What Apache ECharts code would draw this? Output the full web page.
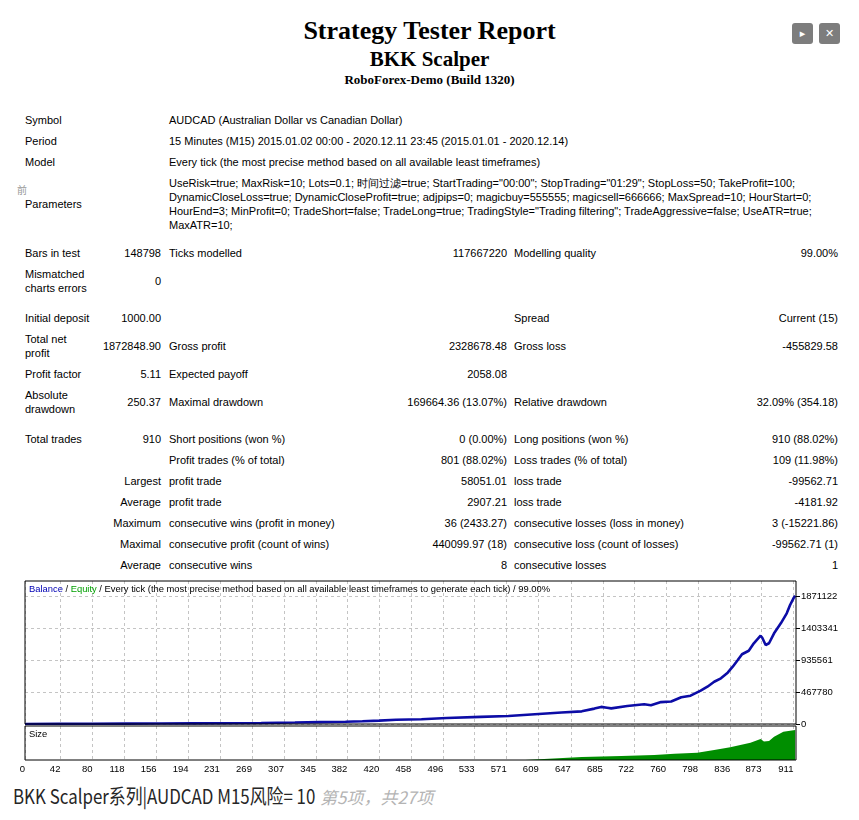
<!DOCTYPE html>
<html>
<head>
<meta charset="utf-8">
<script src="https://cdn.jsdelivr.net/npm/echarts@6/dist/echarts.min.js"></script>
<style>
  body { margin: 0; background: #fff; }
  #page { position: relative; width: 859px; height: 820px; overflow: hidden;
          font-family: 'Liberation Sans', sans-serif; font-size: 11px; color: #000; }
  .head { position: absolute; left: 0; width: 859px; text-align: center; white-space: nowrap;
          font-family: 'Liberation Serif', serif; font-weight: bold; }
  .cell { position: absolute; display: flex; align-items: center; white-space: nowrap; line-height: 14px; }
  .btn { position: absolute; top: 23px; width: 21px; height: 21px; background: #7d7d7d; border-radius: 3px;
         color: #fff; font-size: 11px; line-height: 21px; text-align: center; font-family: 'DejaVu Sans', sans-serif; }
  #chart { position: absolute; left: 0; top: 570px; width: 859px; height: 210px; }
  #caption { position: absolute; left: 13px; top: 781px; white-space: nowrap; color: #262626;
             font-family: 'Noto Sans CJK SC', sans-serif; font-size: 20px; transform-origin: 0 50%; }
  #pageNo { position: absolute; left: 320px; top: 784px; white-space: nowrap; color: #b4b4b4;
            font-family: 'Noto Sans CJK SC', sans-serif; font-size: 17px; font-style: italic; }
</style>
</head>
<body>
<div id="page">
  <div class="head" style="top:16px;font-size:26px;">Strategy Tester Report</div>
  <div class="head" style="top:47px;font-size:21px;">BKK Scalper</div>
  <div class="head" style="top:72px;font-size:13px;">RoboForex-Demo (Build 1320)</div>
  <div class="btn" style="left:792px;">&#9656;</div>
  <div class="btn" style="left:819px;">&#10005;</div>
  <div class="cell" style="left:17px;top:183px;height:14px;color:#999;font-family:'Noto Sans CJK SC';font-size:10px;">前</div>
  <div id="report"></div>
  <div id="chart"></div>
  <div id="caption">BKK Scalper系列|AUDCAD M15风险= 10</div>
  <div id="pageNo">第5项，共27项</div>
</div>
<script>
// report table text
const paramLines = [
  'UseRisk=true; MaxRisk=10; Lots=0.1; 时间过滤=true; StartTrading="00:00"; StopTrading="01:29"; StopLoss=50; TakeProfit=100;',
  'DynamicCloseLoss=true; DynamicCloseProfit=true; adjpips=0; magicbuy=555555; magicsell=666666; MaxSpread=10; HourStart=0;',
  'HourEnd=3; MinProfit=0; TradeShort=false; TradeLong=true; TradingStyle="Trading filtering"; TradeAggressive=false; UseATR=true;',
  'MaxATR=10;'
];
const reportRows = [
  ['Symbol', '', 'AUDCAD (Australian Dollar vs Canadian Dollar)'],
  ['Period', '', '15 Minutes (M15) 2015.01.02 00:00 - 2020.12.11 23:45 (2015.01.01 - 2020.12.14)'],
  ['Model', '', 'Every tick (the most precise method based on all available least timeframes)'],
  ['Parameters', '', paramLines.join('<br>')],
  [],
  ['Bars in test', '148798', 'Ticks modelled', '117667220', 'Modelling quality', '99.00%'],
  ['Mismatched<br>charts errors', '0'],
  [],
  ['Initial deposit', '1000.00', '', '', 'Spread', 'Current (15)'],
  ['Total net<br>profit', '1872848.90', 'Gross profit', '2328678.48', 'Gross loss', '-455829.58'],
  ['Profit factor', '5.11', 'Expected payoff', '2058.08'],
  ['Absolute<br>drawdown', '250.37', 'Maximal drawdown', '169664.36 (13.07%)', 'Relative drawdown', '32.09% (354.18)'],
  [],
  ['Total trades', '910', 'Short positions (won %)', '0 (0.00%)', 'Long positions (won %)', '910 (88.02%)'],
  ['', '', 'Profit trades (% of total)', '801 (88.02%)', 'Loss trades (% of total)', '109 (11.98%)'],
  ['', 'Largest', 'profit trade', '58051.01', 'loss trade', '-99562.71'],
  ['', 'Average', 'profit trade', '2907.21', 'loss trade', '-4181.92'],
  ['', 'Maximum', 'consecutive wins (profit in money)', '36 (2433.27)', 'consecutive losses (loss in money)', '3 (-15221.86)'],
  ['', 'Maximal', 'consecutive profit (count of wins)', '440099.97 (18)', 'consecutive loss (count of losses)', '-99562.71 (1)'],
  ['', 'Average', 'consecutive wins', '8', 'consecutive losses', '1']
];

// balance curve (trade number -> balance)
const balanceTrade = [0, 40, 80, 120, 160, 200, 240, 280, 320, 350, 380, 400, 420, 440, 470, 500, 540, 573,
  600, 636, 660, 675, 683, 690, 695, 714, 734, 742, 754, 766, 778, 789, 801, 809, 817, 825, 833, 839, 845,
  850, 858, 864, 872, 874, 878, 882, 888, 896, 903, 907, 911, 913];
const balanceValue = [1000, 1900, 3200, 4800, 6500, 8800, 11500, 15500, 21000, 27000, 33000, 40000, 50000,
  62000, 70000, 88000, 104000, 117000, 140000, 168000, 185000, 225000, 250000, 238000, 228000, 262000,
  288000, 274000, 320000, 328000, 390000, 414000, 487000, 545000, 618000, 668000, 750000, 838000, 935000,
  1020000, 1071000, 1180000, 1291000, 1260000, 1155000, 1180000, 1326000, 1472000, 1618000, 1740000,
  1837000, 1873849];

// lot size histogram
const sizeTrade = [0, 100, 200, 300, 400, 500, 593, 594, 660, 707, 746, 770, 797, 817, 836, 860, 872, 876,
  882, 888, 899, 913];
const sizeValue = [0.1, 0.2, 0.3, 0.4, 0.5, 0.6, 0.6, 12.5, 18.7, 25, 31, 39, 45.5, 62, 79, 108, 131, 115,
  118, 145, 176, 187];

const tradeLabels = [0, 42, 80, 118, 156, 194, 231, 269, 307, 345, 382, 420, 458, 496, 533, 571, 609, 647,
  685, 722, 760, 798, 836, 873, 911];
const balanceLabels = [0, 467780, 935561, 1403341, 1871122];

// --- report layout
const rowHeights = [21, 21, 21, 63, 7, 21, 35, 9, 21, 35, 21, 35, 9, 21, 21, 21, 21, 21, 21, 21];
const colX = [25, 161, 169, 507, 514, 838];
const colRight = [false, true, false, true, false, true];

const report = document.getElementById('report');
let rowTop = 109.5;
reportRows.forEach((row, r) => {
  const h = rowHeights[r];
  row.forEach((txt, c) => {
    if (!txt) return;
    const d = document.createElement('div');
    d.className = 'cell';
    d.style.top = rowTop + 'px';
    d.style.height = h + 'px';
    if (colRight[c]) {
      d.style.right = (859 - colX[c]) + 'px';
      d.style.justifyContent = 'flex-end';
      d.style.textAlign = 'right';
    } else {
      d.style.left = colX[c] + 'px';
    }
    d.innerHTML = '<div>' + txt + '</div>';
    report.appendChild(d);
  });
  rowTop += h;
});

// squeeze the caption to its width in the picture
const cap = document.getElementById('caption');
cap.style.transform = 'scaleX(' + (302 / cap.offsetWidth) + ')';

// --- chart
const zip = (a, b) => a.map((v, i) => [v, b[i]]);
const gridLine = { show: true, lineStyle: { color: '#c4c4c4', type: [3, 3], width: 1 } };
// panel frames sit above the grid lines and curve
const panel = { show: true, borderColor: '#000', borderWidth: 1, backgroundColor: 'transparent', z: 10 };

const myChart = echarts.init(document.getElementById('chart'), null, { renderer: 'canvas' });
const option = {
  animation: false,
  backgroundColor: '#fff',
  textStyle: { fontFamily: 'Liberation Sans' },
  title: [
    {
      text: '{b|Balance} / {e|Equity} / Every tick (the most precise method based on all available least timeframes to generate each tick) / 99.00%',
      left: 29, top: 15, padding: 0,
      textStyle: {
        fontSize: 9.4, fontWeight: 'normal', color: '#000',
        rich: { b: { color: '#0000b4', fontSize: 9.4 }, e: { color: '#00a000', fontSize: 9.4 } }
      }
    },
    { text: 'Size', left: 29, top: 160, padding: 0, textStyle: { fontSize: 9.4, fontWeight: 'normal', color: '#000' } }
  ],
  grid: [
    Object.assign({ left: 25, right: 63, top: 11, height: 143 }, panel),
    Object.assign({ left: 25, right: 63, top: 156, height: 34 }, panel)
  ],
  xAxis: [
    {
      type: 'value', gridIndex: 0, min: 0, max: 914,
      axisLine: { show: false },
      axisTick: { show: false, customValues: tradeLabels },
      axisLabel: { show: false, customValues: tradeLabels },
      splitLine: gridLine
    },
    {
      type: 'value', gridIndex: 1, min: 0, max: 914,
      axisLine: { show: false },
      axisTick: { show: false, customValues: tradeLabels },
      axisLabel: { customValues: tradeLabels, align: 'right', margin: 4, fontSize: 9.5, color: '#000' },
      splitLine: gridLine
    }
  ],
  yAxis: [
    {
      type: 'value', gridIndex: 0, position: 'right', min: 0, max: 2090400,
      axisLine: { show: false, onZero: false },
      axisTick: { show: true, inside: false, length: 4, customValues: balanceLabels, lineStyle: { color: '#000' } },
      axisLabel: { customValues: balanceLabels, margin: 5, fontSize: 9.5, color: '#000', formatter: (v) => String(v) },
      splitLine: gridLine
    },
    { type: 'value', gridIndex: 1, min: 0, max: 212, show: false, splitLine: { show: false } }
  ],
  series: [
    {
      name: 'Size', type: 'line', xAxisIndex: 1, yAxisIndex: 1,
      data: zip(sizeTrade, sizeValue), symbol: 'none',
      lineStyle: { width: 0 }, areaStyle: { color: '#008e00', opacity: 1 }
    },
    {
      name: 'Balance', type: 'line', xAxisIndex: 0, yAxisIndex: 0,
      data: zip(balanceTrade, balanceValue), symbol: 'none',
      lineStyle: { color: '#0c0ca6', width: 2.6 }, z: 3
    }
  ]
};

if (option && typeof option === 'object') {
  myChart.setOption(option);
}
</script>
</body>
</html>
